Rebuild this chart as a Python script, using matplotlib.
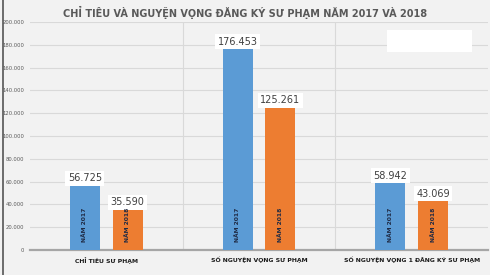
import matplotlib.pyplot as plt
import matplotlib.patches as mpatches
from matplotlib.lines import Line2D
import numpy as np

# Dati
categorie = ['CHỈ TIÊU SƯ PHẠM', 'SỐ NGUYỆN VỌNG SƯ PHẠM', 'SỐ NGUYỆN VỌNG 1 ĐĂNG KÝ SƯ PHẠM']
anni = ['NĂM 2017', 'NĂM 2018']
valori_2017 = [56725, 176453, 58942]
valori_2018 = [35590, 125261, 43069]
yticks = list(range(0, 200001, 20000))

blu = '#5b9bd5'
arancio = '#ed7d31'
sfondo = '#f2f2f2'

fig = plt.figure(figsize=(4.9, 2.75), dpi=100, facecolor=sfondo)
ax = fig.add_axes([30 / 490, 25 / 275, 458 / 490, 228 / 275], facecolor=sfondo)

x = np.arange(len(categorie))
w = 0.196
off = 0.14
b1 = ax.bar(x - off, valori_2017, w, color=blu, zorder=3)
b2 = ax.bar(x + off, valori_2018, w, color=arancio, zorder=3)

ax.set_xlim(-0.5, 2.5)
ax.set_ylim(0, 200000)
ax.set_yticks(yticks)
ax.set_yticklabels(['0' if v == 0 else f'{v:,}'.replace(',', '.') for v in yticks],
                   fontsize=3.8, color='#595959')
ax.tick_params(axis='y', length=0, pad=4)
ax.set_xticks(x)
ax.set_xticklabels(categorie, fontsize=4.4, fontweight='bold', color='#1a1a1a')
ax.tick_params(axis='x', length=0, pad=5)

# Griglia
for v in yticks[1:]:
    ax.axhline(v, color='#d9d9d9', lw=0.8, zorder=1)
for s in [0.5, 1.5]:
    ax.axvline(s, color='#d9d9d9', lw=0.8, zorder=1)

for sp in ['top', 'right', 'left']:
    ax.spines[sp].set_visible(False)
ax.spines['bottom'].set_color('#a6a6a6')
ax.spines['bottom'].set_linewidth(1.6)

# Etichette dei valori e degli anni
for barre, vals, anno in [(b1, valori_2017, anni[0]), (b2, valori_2018, anni[1])]:
    for b, v in zip(barre, vals):
        cx = b.get_x() + b.get_width() / 2
        ax.text(cx, v + 1800, f'{v:,}'.replace(',', '.'), ha='center', va='bottom',
                fontsize=7.0, color='#404040', zorder=5,
                bbox=dict(boxstyle='square,pad=0.25', fc='white', ec='none'))
        ax.text(cx, 22000, anno, rotation=90, ha='center', va='center',
                fontsize=4.3, fontweight='bold', color='#1f2a44', zorder=5)

# Riquadro bianco (legenda vuota)
fig.patches.append(mpatches.Rectangle((387 / 490, 1 - 52 / 275), 85 / 490, 22 / 275,
                                      transform=fig.transFigure, fc='white', ec='none', zorder=5))

fig.text(0.5, 1 - 12 / 275, 'CHỈ TIÊU VÀ NGUYỆN VỌNG ĐĂNG KÝ SƯ PHẠM NĂM 2017 VÀ 2018',
         ha='center', va='center', fontsize=7.0, fontweight='bold', color='#595959')

fig.lines.append(Line2D([3 / 490, 3 / 490], [0, 1], transform=fig.transFigure,
                        color='#555555', lw=1.2))

fig.savefig('out.png', dpi=100, facecolor=sfondo)
